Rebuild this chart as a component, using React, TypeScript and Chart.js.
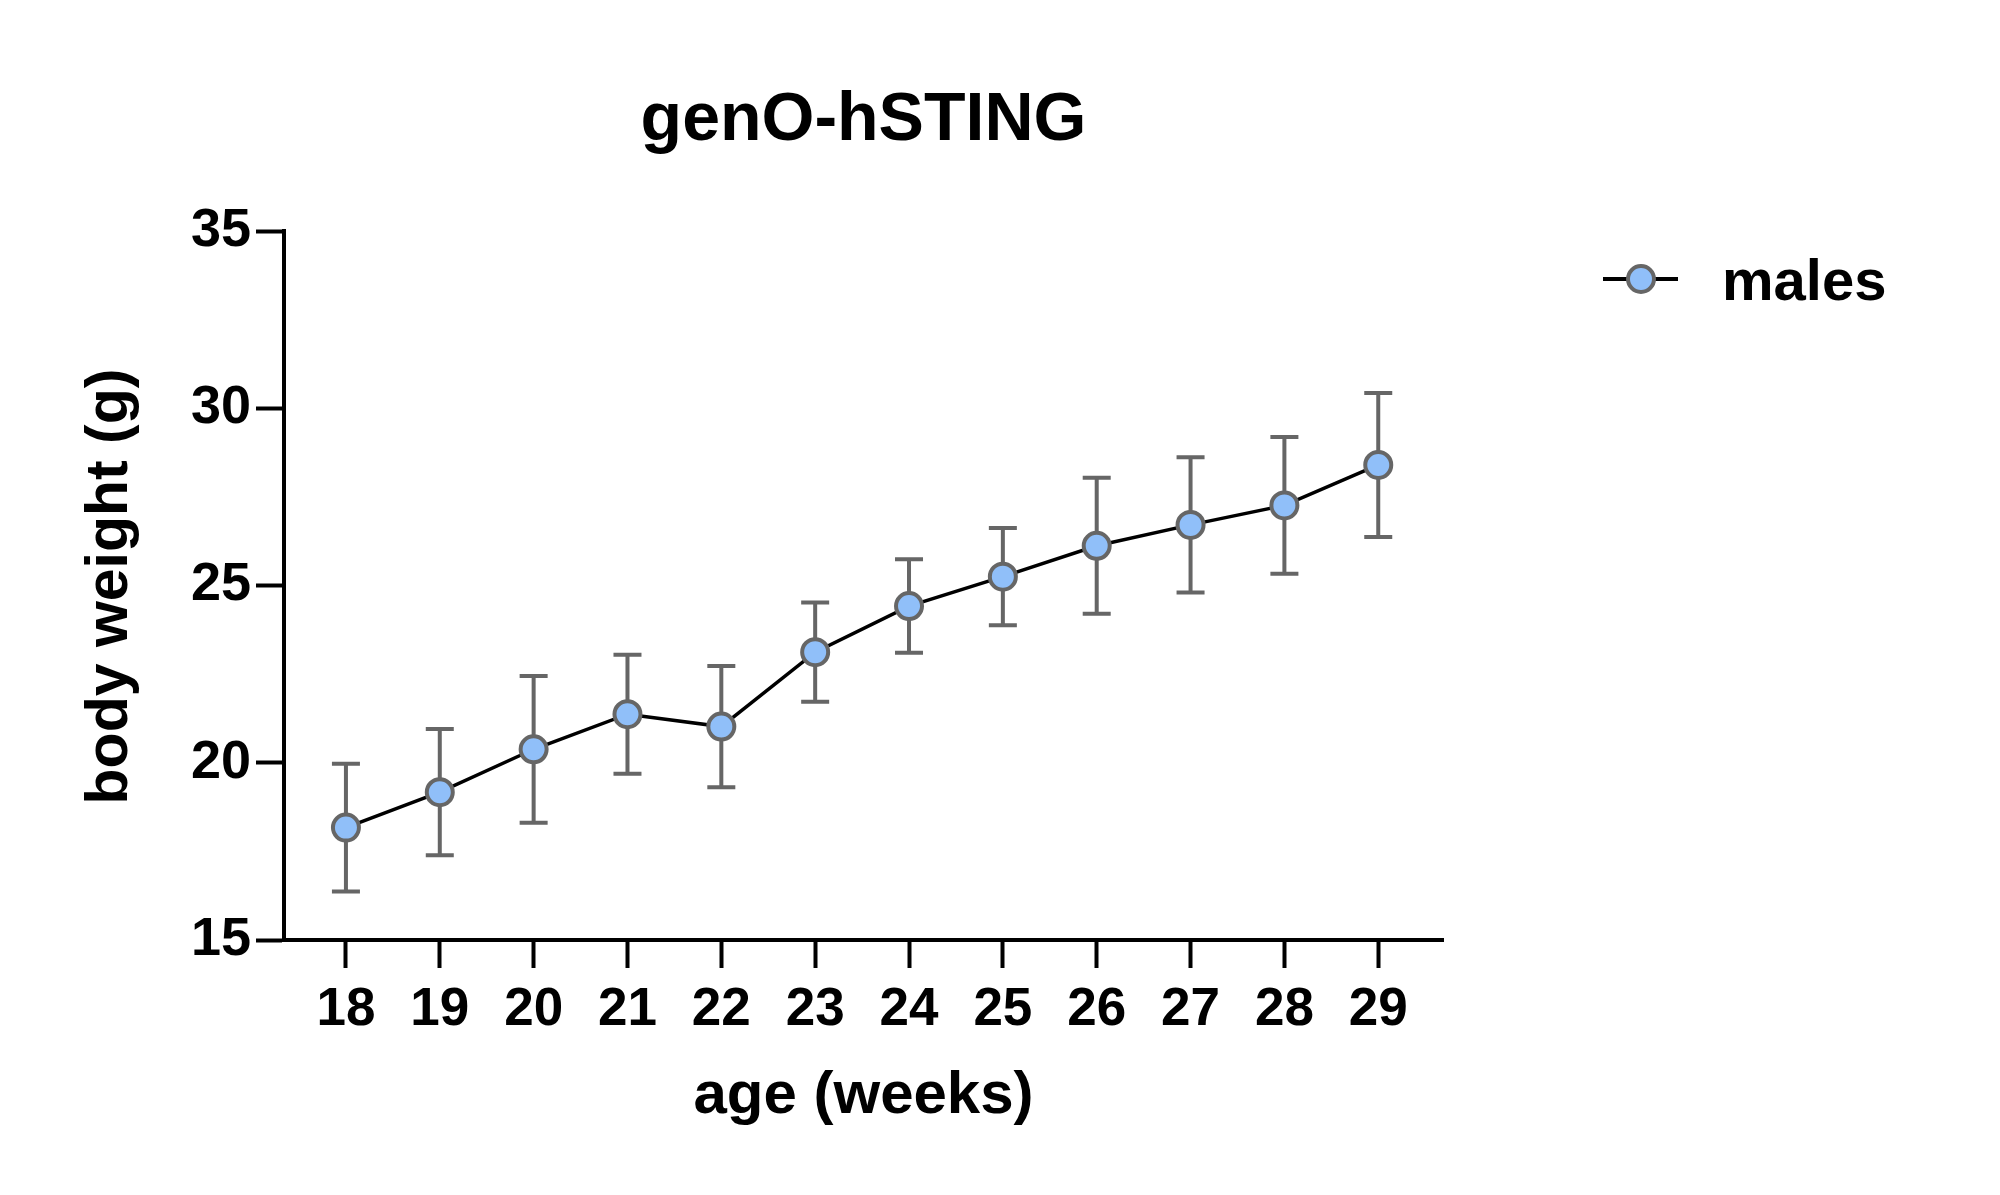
import React, { useEffect, useRef } from "react";
import { Chart, registerables } from "chart.js";

Chart.register(...registerables);

const TITLE = "genO-hSTING";
const SERIES_LABEL = "males";
const X_TITLE = "age (weeks)";
const Y_TITLE = "body weight (g)";

const ages = [18, 19, 20, 21, 22, 23, 24, 25, 26, 27, 28, 29];
const meanWeight = [18.17, 19.17, 20.38, 21.37, 21.02, 23.12, 24.42, 25.25, 26.12, 26.71, 27.26, 28.4];
const errWeight = [1.8, 1.78, 2.07, 1.68, 1.71, 1.4, 1.32, 1.37, 1.92, 1.91, 1.93, 2.03];
const yTicks = [15, 20, 25, 30, 35];

const FONT = '"Liberation Sans", Arial, Helvetica, sans-serif';
const FILL = "#90BFF9";
const EDGE = "#666666";

export default function App() {
  const ref = useRef<HTMLCanvasElement>(null);

  useEffect(() => {
    document.body.style.margin = "0";
    if (!ref.current) return;

    const errorBars = {
      id: "errorBars",
      beforeDatasetsDraw(chart: any) {
        const { ctx } = chart;
        const x = chart.scales.x;
        const y = chart.scales.y;
        ctx.save();
        ctx.strokeStyle = EDGE;
        ctx.lineWidth = 4;
        ages.forEach((a, i) => {
          const px = x.getPixelForValue(a);
          const top = y.getPixelForValue(meanWeight[i] + errWeight[i]);
          const bot = y.getPixelForValue(meanWeight[i] - errWeight[i]);
          ctx.beginPath();
          ctx.moveTo(px, top);
          ctx.lineTo(px, bot);
          ctx.moveTo(px - 14, top);
          ctx.lineTo(px + 14, top);
          ctx.moveTo(px - 14, bot);
          ctx.lineTo(px + 14, bot);
          ctx.stroke();
        });
        ctx.restore();
      },
    };

    const texts = {
      id: "texts",
      afterDraw(chart: any) {
        const { ctx, chartArea } = chart;
        const cx = (chartArea.left + chartArea.right) / 2;
        const cy = (chartArea.top + chartArea.bottom) / 2;
        ctx.save();
        ctx.fillStyle = "#000";
        // title
        ctx.font = `bold 68px ${FONT}`;
        ctx.textAlign = "center";
        ctx.textBaseline = "alphabetic";
        ctx.fillText(TITLE, cx, 140);
        // x title
        ctx.font = `bold 60px ${FONT}`;
        ctx.fillText(X_TITLE, cx, 1113);
        // y title
        ctx.save();
        ctx.font = `bold 59px ${FONT}`;
        ctx.translate(127, cy + 1);
        ctx.rotate(-Math.PI / 2);
        ctx.fillText(Y_TITLE, 0, 0);
        ctx.restore();
        // legend
        ctx.strokeStyle = "#000";
        ctx.lineWidth = 4;
        ctx.beginPath();
        ctx.moveTo(1603, 279);
        ctx.lineTo(1678, 279);
        ctx.stroke();
        ctx.beginPath();
        ctx.arc(1641, 279, 13, 0, Math.PI * 2);
        ctx.fillStyle = FILL;
        ctx.fill();
        ctx.strokeStyle = EDGE;
        ctx.stroke();
        ctx.fillStyle = "#000";
        ctx.font = `bold 58px ${FONT}`;
        ctx.textAlign = "left";
        ctx.fillText(SERIES_LABEL, 1722, 300);
        ctx.restore();
      },
    };

    const chart = new Chart(ref.current, {
      type: "line",
      data: {
        datasets: [
          {
            label: SERIES_LABEL,
            data: ages.map((a, i) => ({ x: a, y: meanWeight[i] })),
            borderColor: "#000",
            borderWidth: 3.5,
            pointRadius: 13,
            pointHoverRadius: 13,
            pointBackgroundColor: FILL,
            pointBorderColor: EDGE,
            pointBorderWidth: 4,
            tension: 0,
            fill: false,
          },
        ],
      },
      options: {
        animation: false,
        responsive: true,
        maintainAspectRatio: false,
        devicePixelRatio: 1,
        layout: { padding: { left: 0, top: 231, right: 557, bottom: 155 } },
        plugins: {
          legend: { display: false },
          title: { display: false },
          tooltip: { enabled: false },
        },
        scales: {
          x: {
            type: "linear",
            min: 17.34,
            max: 29.69,
            afterBuildTicks: (scale: any) => {
              scale.ticks = ages.map((v) => ({ value: v }));
            },
            afterFit: (scale: any) => {
              scale.height = 100;
            },
            grid: {
              display: true,
              drawOnChartArea: false,
              drawTicks: true,
              tickLength: 28,
              tickWidth: 4,
              color: "#000",
            },
            border: { display: true, color: "#000", width: 4 },
            ticks: {
              color: "#000",
              padding: 11,
              maxRotation: 0,
              autoSkip: false,
              font: { family: FONT, size: 53, weight: "bold" },
            },
          },
          y: {
            type: "linear",
            min: 15,
            max: 35,
            afterBuildTicks: (scale: any) => {
              scale.ticks = yTicks.map((v) => ({ value: v }));
            },
            afterFit: (scale: any) => {
              scale.width = 284;
            },
            grid: {
              display: true,
              drawOnChartArea: false,
              drawTicks: true,
              tickLength: 28,
              tickWidth: 4,
              color: "#000",
            },
            border: { display: true, color: "#000", width: 4 },
            ticks: {
              color: "#000",
              padding: 5,
              font: { family: FONT, size: 54, weight: "bold" },
            },
          },
        },
      },
      plugins: [errorBars, texts],
    } as any);

    return () => chart.destroy();
  }, []);

  return (
    <div style={{ position: "relative", width: "2000px", height: "1195px" }}>
      <canvas ref={ref} />
    </div>
  );
}
